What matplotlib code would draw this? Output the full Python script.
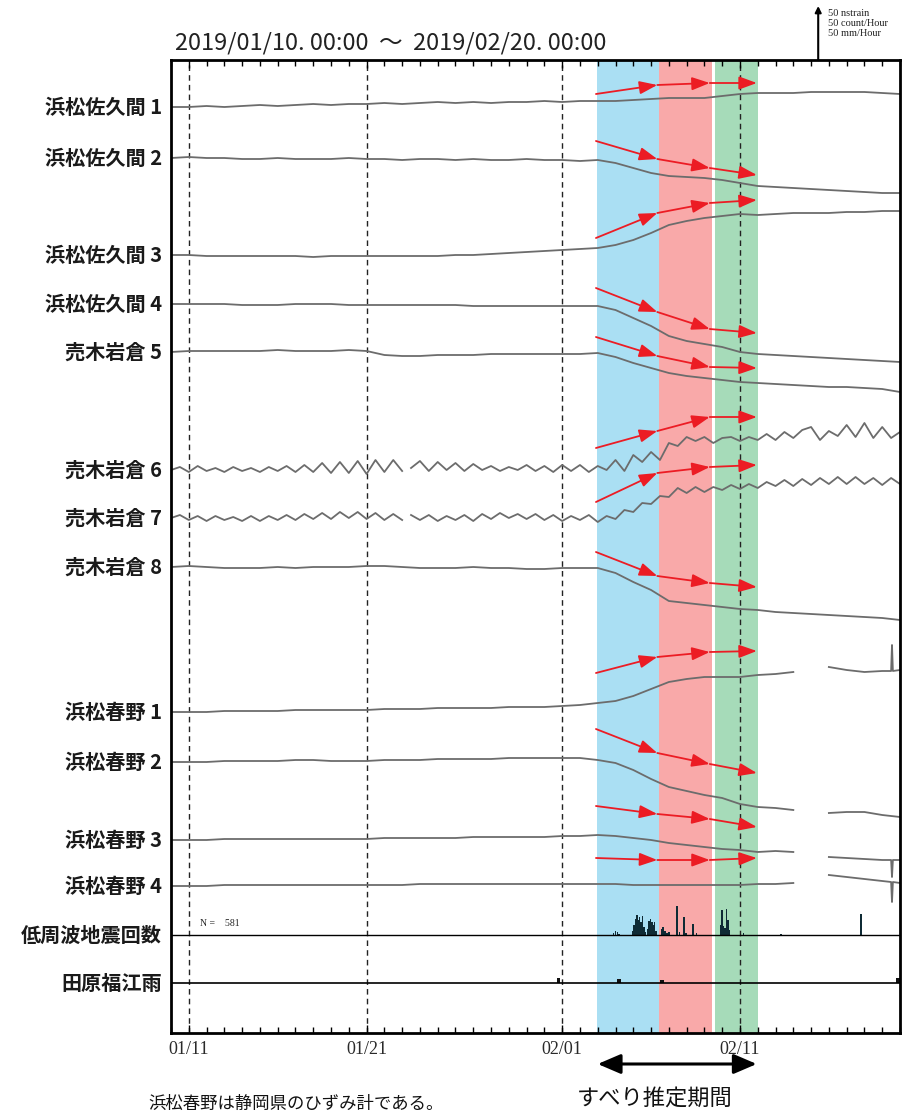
import numpy as np
import matplotlib.pyplot as plt
from matplotlib.transforms import blended_transform_factory

plt.rcParams['font.family'] = ['Noto Sans CJK JP', 'DejaVu Sans']

# time in days since 2019/01/10 00:00
DAYS = np.arange(0, 42)
HALF_DAYS = np.arange(0, 41.01, 0.5)

TITLE = '2019/01/10. 00:00  〜  2019/02/20. 00:00'
TICK_DAYS = [1, 11, 22, 32]
TICK_LABELS = ['01/11', '01/21', '02/01', '02/11']

LABELS = ['浜松佐久間 1', '浜松佐久間 2', '浜松佐久間 3', '浜松佐久間 4',
          '売木岩倉 5', '売木岩倉 6', '売木岩倉 7', '売木岩倉 8',
          '浜松春野 1', '浜松春野 2', '浜松春野 3', '浜松春野 4',
          '低周波地震回数', '田原福江雨']

# strain change from the start of each trace (nstrain, up = positive)
SAKUMA1 = [0, 0, 1, 0, 1, 2, 1, 2, 3, 2, 3, 3, 4, 3, 4, 5, 4, 5, 4, 5, 5, 6, 5, 6, 6,
           6, 7, 8, 9, 9, 9, 11, 13, 14, 14, 14, 15, 15, 15, 15, 14, 13]
SAKUMA2 = [0, 1, 0, 0, -1, -1, 0, -1, -1, -1, 0, -1, -1, -2, -1, -1, -2, -1, -2, -2, -1,
           -2, -2, -3, -2, -5, -10, -15, -18, -19, -20, -22, -25, -28, -29, -30, -31,
           -32, -33, -34, -35, -35]
SAKUMA3 = [0, 0, -1, -1, -1, -1, -1, -1, -2, -1, -1, -1, -1, -1, -1, -1, 0, 0, 1, 2, 3,
           4, 5, 6, 7, 10, 15, 22, 30, 34, 37, 39, 41, 40, 41, 42, 42, 42, 43, 43, 44, 44]
SAKUMA4 = [0, 0, 0, 0, -1, -1, -1, 0, 0, 0, -1, -1, -1, -1, -1, -1, -1, -2, -2, -2, -2,
           -2, -2, -2, -2, -6, -14, -22, -32, -37, -40, -43, -48, -50, -51, -52, -53,
           -54, -55, -56, -57, -58]
URUGI5 = [0, 1, 1, 1, 1, 1, 2, 1, 1, 1, 2, 1, -3, -4, -4, -3, -3, -3, -2, -2, -2, -2,
          -2, -2, -1, -5, -11, -16, -21, -24, -26, -28, -30, -31, -32, -33, -34, -35,
          -35, -36, -37, -40]
# half-day samples (tidal wiggle)
URUGI6 = [0, 3, -2, 4, -1, 2, -2, 3, -1, 2,
          -2, 3, -1, 4, -2, 5, -2, 7, -3, 8,
          -3, 9, -4, 10, -2, 10, -1, 2, 9, -1,
          8, 0, 7, -1, 6, 0, 4, -1, 3, 0,
          5, -1, 4, -2, 5, -1, 5, -2, 4, 0,
          10, -1, 15, 8, 18, 10, 27, 24, 33, 29,
          33, 27, 32, 33, 29, 33, 30, 36, 30, 38,
          32, 40, 43, 30, 39, 34, 45, 33, 47, 32,
          43, 32, 38]
URUGI7 = [0, 3, -2, 2, -3, 2, -2, 1, -3, 2,
          -3, 2, -2, 3, -2, 4, -1, 5, -1, 6,
          0, 6, -1, 5, -2, 4, -2, 3, -2, 3,
          -3, 2, -2, 3, -3, 4, -1, 5, 0, 4,
          -1, 4, -2, 3, -3, 2, -2, 3, -4, 2,
          -1, 8, 6, 15, 14, 22, 21, 30, 25, 31,
          26, 31, 28, 33, 29, 34, 30, 36, 32, 38,
          32, 39, 33, 40, 34, 41, 34, 41, 34, 40,
          33, 40, 34]
URUGI67_GAP = 13.25   # data gap
URUGI8 = [0, 1, 0, -1, -1, -1, 0, -1, 0, 0, 0, 1, 1, 0, -1, -1, -1, 0, -1, -1, -2, -2,
          -1, -1, -1, -6, -15, -23, -34, -36, -38, -40, -42, -43, -45, -46, -47, -48,
          -49, -50, -51, -53]
nan = np.nan
HARUNO1 = [0, 0, 0, 1, 1, 1, 1, 2, 2, 2, 2, 2, 3, 3, 3, 4, 4, 4, 4, 5, 5, 5, 6, 7, 9,
           11, 16, 23, 30, 33, 35, 35, 35, 37, 38, 40, nan, 45, 42, 40, 41, 42]
HARUNO2 = [0, 0, 0, 1, 1, 1, 1, 2, 2, 1, 1, 1, 2, 2, 2, 3, 3, 3, 3, 4, 4, 4, 4, 4, 2,
           -1, -8, -17, -25, -29, -33, -36, -42, -45, -46, -48, nan, -51, -50, -50, -53, -55]
HARUNO3 = [0, 0, 0, 1, 1, 1, 1, 1, 1, 1, 1, 1, 2, 2, 2, 2, 2, 3, 3, 3, 3, 3, 4, 4, 5,
           4, 2, 0, -3, -5, -7, -9, -10, -12, -11, -12, nan, -17, -18, -19, -20, -20]
HARUNO4 = [0, 0, 0, 1, 1, 1, 1, 1, 1, 1, 1, 1, 1, 1, 2, 2, 2, 2, 2, 2, 2, 2, 2, 2, 2,
           2, 1, 1, 1, 1, 1, 1, 1, 2, 2, 3, nan, 11, 9, 7, 5, 3]
# short spikes at the end of the Haruno records: (trace, day, before, peak, after)
SPIKES = [(8, 40.55, 41, 67, 41), (10, 40.55, -20, -37, -20), (11, 40.55, 4, -16, 4)]

# low frequency earthquakes (count/hour)
EQ_DAY = [24.9, 25.0, 25.1, 25.2, 25.95, 26.05, 26.12, 26.2, 26.28, 26.36, 26.44, 26.52,
          26.6, 26.68, 26.8, 26.88, 26.96, 27.04, 27.12, 27.2, 27.28, 27.58, 27.66, 27.74,
          27.82, 27.9, 28.0, 28.45, 28.6, 28.86, 28.95, 29.35, 29.55, 30.9, 31.0, 31.08,
          31.15, 31.25, 31.32, 31.4, 32.2, 34.3, 38.8]
EQ_COUNT = [2, 4, 3, 1.5, 4, 10, 16, 20, 15, 18, 13, 19, 8, 3, 6, 14, 16, 13, 10, 13, 4,
            6, 8, 4, 4, 2, 3, 29, 3, 18, 2, 11, 2, 10, 25, 9, 7, 26, 15, 5, 2, 1.5, 21]
EQ_TOTAL = 581
# rain at Tahara-Fukue (mm/hour)
RAIN_DAY = [21.8, 25.2, 27.6, 40.9]
RAIN_MM = [5, 4, 3, 5]

# slip periods
BANDS = [(23.94, 27.44, '#aadff3'), (27.44, 30.42, '#f9a9a9'), (30.58, 33.0, '#a6dbb9')]
ARROW_DAYS = [23.9, 27.35, 30.3, 32.95]
ARROW_DEV = [[13, 22, 24, 24], [17, -1, -10, -17], [17, 42, 52, 55], [16, -8, -25, -29],
             [15, -4, -15, -16], [22, 39, 53, 53], [16, 45, 51, 53], [15, -9, -16, -20],
             [39, 55, 60, 61], [33, 9, -2, -11], [34, 26, 21, 13], [28, 26, 26, 28]]
SLIP_PERIOD = (24.0, 32.94)

# layout: vertical position of each row (from top of frame)
ROWS = [47, 98, 195, 244, 292, 410, 458, 507, 652, 702, 780, 826, 875, 923]
W, H = 915, 1119

fig = plt.figure(figsize=(W / 100, H / 100), dpi=100)
ax = fig.add_axes([171 / W, 1 - 1033 / H, 729 / W, 973 / H])
ax.set_xlim(0, 41)
ax.set_ylim(973, 0)

for x0, x1, c in BANDS:
    ax.axvspan(x0, x1, color=c, lw=0, zorder=0)
for d in TICK_DAYS:
    ax.axvline(d, color='#222222', lw=1.0, ls=(0, (4, 3)), zorder=1)

daily = [SAKUMA1, SAKUMA2, SAKUMA3, SAKUMA4, URUGI5, None, None, URUGI8,
         HARUNO1, HARUNO2, HARUNO3, HARUNO4]
for i, vals in enumerate(daily):
    if vals is None:
        half = URUGI6 if i == 5 else URUGI7
        k = np.searchsorted(HALF_DAYS, URUGI67_GAP)
        t = np.insert(HALF_DAYS, k, URUGI67_GAP)
        v = np.insert(np.array(half, float), k, np.nan)
    else:
        t = DAYS.astype(float)
        v = np.array(vals, float)
    for j, d, a, p, b in SPIKES:
        if j == i:
            t = np.concatenate([t, [d - 0.05, d, d + 0.05]])
            v = np.concatenate([v, [a, p, b]])
            o = np.argsort(t, kind='stable')
            t, v = t[o], v[o]
    ax.plot(t, ROWS[i] - v, color='#6c6c6c', lw=1.3, zorder=2)

# earthquake counts and rain
ax.bar(EQ_DAY, -np.array(EQ_COUNT), bottom=ROWS[12], width=0.085, color='#0f2b35',
       lw=0, zorder=2)
ax.bar(RAIN_DAY, -np.array(RAIN_MM), bottom=ROWS[13], width=0.2, color='#111111',
       lw=0, zorder=2)
ax.axhline(ROWS[12], color='black', lw=1.0, zorder=3)
ax.axhline(ROWS[13], color='black', lw=1.2, zorder=3)
ax.text(1.65, ROWS[12] - 11, f'N =    {EQ_TOTAL}', fontsize=7, family='Liberation Serif',
        va='center', color='#222222')

# red arrows
for row, devs in zip(ROWS, ARROW_DEV):
    for k in range(3):
        ax.annotate('', xy=(ARROW_DAYS[k + 1], row - devs[k + 1]),
                    xytext=(ARROW_DAYS[k], row - devs[k]),
                    arrowprops=dict(arrowstyle='-|>,head_length=0.6,head_width=0.22',
                                    color='#ec1c24', lw=1.3, mutation_scale=18,
                                    shrinkA=0, shrinkB=0), zorder=4)

# frame and ticks
for s in ax.spines.values():
    s.set_linewidth(2.0)
ax.set_yticks([])
ax.set_xticks(DAYS, minor=True)
ax.set_xticks(TICK_DAYS)
ax.set_xticklabels(TICK_LABELS, fontfamily='Liberation Serif', fontsize=13, color='#2a2a2a')
ax.tick_params(axis='x', which='both', direction='in', top=True, bottom=True, width=1.0,
               pad=6)
ax.tick_params(axis='x', which='minor', length=4)
ax.tick_params(axis='x', which='major', length=6)

# row labels
lab_tr = blended_transform_factory(fig.transFigure, ax.transData)
for name, row in zip(LABELS, ROWS):
    ax.text(162 / W, row, name, transform=lab_tr, ha='right', va='center',
            fontsize=14.5, fontweight='bold', color='#1a1a1a')

fig.text(175 / W, 1 - 43 / H, TITLE, fontsize=17, ha='left', va='center', color='#222222')

# scale bar
ax.annotate('', xy=(36.4, -54), xytext=(36.4, 0), annotation_clip=False,
            arrowprops=dict(arrowstyle='-|>', color='black', lw=1.5, mutation_scale=9,
                            shrinkA=0, shrinkB=0))
for k, s in enumerate(['50 nstrain', '50 count/Hour', '50 mm/Hour']):
    ax.text(36.95, -47 + 10 * k, s, fontsize=7.5, family='Liberation Serif',
            va='center', ha='left', color='#222222', clip_on=False)

# slip period annotation
ax.annotate('', xy=(SLIP_PERIOD[1], 1004), xytext=(SLIP_PERIOD[0], 1004),
            annotation_clip=False,
            arrowprops=dict(arrowstyle='<|-|>,head_length=0.7,head_width=0.3',
                            color='black', lw=2.2, mutation_scale=20, shrinkA=0, shrinkB=0))
fig.text(655 / W, 1 - 1098 / H, 'すべり推定期間', fontsize=16, ha='center', va='center',
         color='#111111')
fig.text(148 / W, 1 - 1104 / H, '浜松春野は静岡県のひずみ計である。', fontsize=12.5,
         ha='left', va='center', color='#111111')

fig.savefig('out.png', dpi=100)
